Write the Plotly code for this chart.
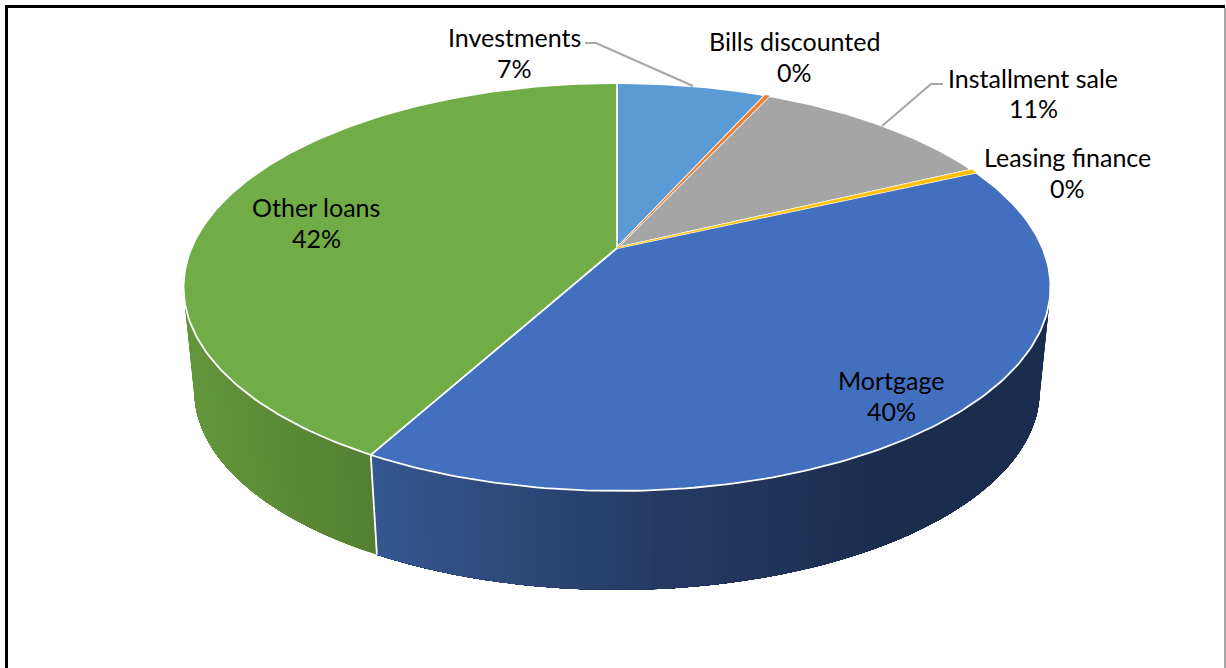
import numpy as np
import plotly.graph_objects as go

# --- data ---
categories = ["Investments", "Bills discounted", "Installment sale",
              "Leasing finance", "Mortgage", "Other loans"]
shares = [6.7, 0.2, 11.0, 0.3, 39.8, 42.0]
colors = ["#5B9BD5", "#ED7D31", "#A5A5A5", "#FFC000", "#4270BF", "#70AD47"]
label_x = [514, 794, 1033, 1067, 891, 316]
name_y = [37, 41, 78, 157, 380, 207]
pct_y = [68, 72, 108, 188, 411, 238]

# gradient stops of the visible side wall (screen x -> rgb)
wall_x = {"Mortgage": [372, 660, 900, 1050], "Other loans": [185, 372]}
wall_rgb = {"Mortgage": [(52, 87, 143), (37, 58, 99), (27, 45, 79), (27, 45, 79)],
            "Other loans": [(98, 150, 60), (84, 128, 49)]}

# leader lines (label end -> elbow -> slice)
leaders = {"Investments": ([585, 596, 693], [43, 43, 86]),
           "Installment sale": ([943, 931, 882], [84, 84, 126])}

# camera of the tilted disc
AX, AY = 617.0, 248.0      # disc centre on screen
A, B, K = 425.5, 196.5, -0.1912
SHRINK, DEPTH = 0.975, 105.0


def top(theta):
    """theta: clockwise from 12 o'clock, radians"""
    u, v = np.sin(theta), -np.cos(theta)
    w = 1 + K * v
    return A * u / w, B * v / w


def project_top(theta):
    x, y = top(theta)
    return AX + x, AY + y


def project_bottom(theta):
    x, y = top(theta)
    return AX + SHRINK * x, AY + SHRINK * y + DEPTH


fig = go.Figure()

total = sum(shares)
edges = np.concatenate([[0], np.cumsum(shares)]) / total * 2 * np.pi

# side wall: each band runs on to the end of its slice, the next band paints over it
WALL_START, WALL_END = np.pi / 2, 1.5 * np.pi
for i, name in enumerate(categories):
    lo, hi = max(edges[i], WALL_START), min(edges[i + 1], WALL_END)
    if lo >= hi:
        continue
    stops = np.array(wall_rgb[name])
    bands = np.arange(lo, hi, np.radians(1.0))
    for t0 in bands:
        ts = np.linspace(t0, hi, max(2, int((hi - t0) / np.radians(2.0)) + 2))
        xt, yt = project_top(ts)
        xb, yb = project_bottom(ts[::-1])
        x_here = (project_top(t0)[0] + project_top(t0 + np.radians(1.0))[0]) / 2
        rgb = [int(round(np.interp(x_here, wall_x[name], stops[:, c]))) for c in range(3)]
        col = f"rgb({rgb[0]},{rgb[1]},{rgb[2]})"
        fig.add_trace(go.Scatter(x=np.concatenate([xt, xb, xt[:1]]),
                                 y=np.concatenate([yt, yb, yt[:1]]),
                                 mode="lines", fill="toself", fillcolor=col,
                                 line=dict(width=0), hoverinfo="skip", showlegend=False))

# white seams on the wall at slice boundaries
for e in edges:
    if WALL_START < e < WALL_END:
        xa, ya = project_top(e)
        xc, yc = project_bottom(e)
        fig.add_trace(go.Scatter(x=[xa, xc], y=[ya, yc], mode="lines",
                                 line=dict(color="white", width=1.8), hoverinfo="skip", showlegend=False))

# top face
for i, name in enumerate(categories):
    n = max(3, int(shares[i] * 4))
    ts = np.linspace(edges[i], edges[i + 1], n)
    xs, ys = project_top(ts)
    fig.add_trace(go.Scatter(x=np.concatenate([[AX], xs, [AX]]),
                             y=np.concatenate([[AY], ys, [AY]]),
                             mode="lines", fill="toself", fillcolor=colors[i],
                             line=dict(color="white", width=1.8),
                             name=name, hoverinfo="name", showlegend=False))

# thin slices drawn once more without the white outline
for i, name in enumerate(categories):
    if shares[i] < 1:
        ts = np.linspace(edges[i], edges[i + 1], 3)
        xs, ys = project_top(ts)
        fig.add_trace(go.Scatter(x=np.concatenate([[AX], xs, [AX]]),
                                 y=np.concatenate([[AY], ys, [AY]]),
                                 mode="lines", fill="toself", fillcolor=colors[i],
                                 line=dict(color=colors[i], width=0.6),
                                 hoverinfo="skip", showlegend=False))

# leader lines
for name, (lx, ly) in leaders.items():
    fig.add_trace(go.Scatter(x=lx, y=ly, mode="lines", line=dict(color="#A6A6A6", width=2.2),
                             hoverinfo="skip", showlegend=False))

# labels
for name, s, x, y0, y1 in zip(categories, shares, label_x, name_y, pct_y):
    for txt, y in ((name, y0), (f"{round(s / total * 100)}%", y1)):
        fig.add_annotation(x=x, y=y, xref="x", yref="y", showarrow=False, text=txt,
                           font=dict(family="Lato", size=25, color="black"), align="center")

# picture frame
fig.add_shape(type="line", x0=6.5, x1=6.5, y0=5, y1=668, line=dict(color="black", width=3))
fig.add_shape(type="line", x0=5, x1=1225, y0=6.5, y1=6.5, line=dict(color="black", width=3))
fig.add_shape(type="line", x0=1225, x1=1225, y0=8, y1=668, line=dict(color="#A6A6A6", width=2))

fig.update_layout(width=1226, height=668, margin=dict(l=0, r=0, t=0, b=0),
                  paper_bgcolor="white", plot_bgcolor="white", showlegend=False,
                  xaxis=dict(range=[0, 1226], visible=False, fixedrange=True),
                  yaxis=dict(range=[668, 0], visible=False, fixedrange=True))
fig.write_html("out.html", config={"displayModeBar": False},
               post_script="document.body.style.margin='0';document.body.style.overflow='hidden';")
